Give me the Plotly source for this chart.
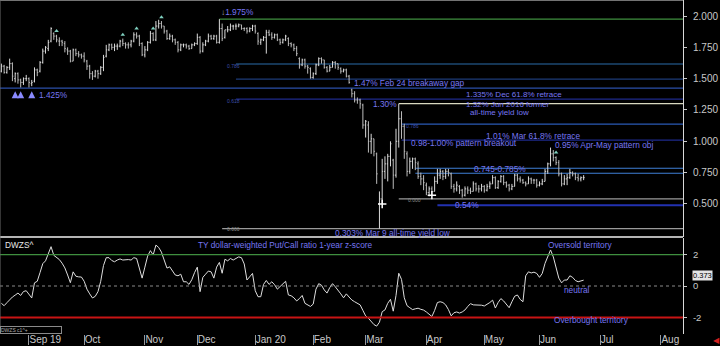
import numpy as np
import pandas as pd
import plotly.graph_objects as go

# ---------------- data ----------------
HOLIDAYS = ["2019-09-02", "2019-10-14", "2019-11-11", "2019-11-28", "2019-12-25",
            "2020-01-01", "2020-01-20", "2020-02-17", "2020-04-10", "2020-05-25", "2020-07-03"]
MONTH_LABELS = ["Sep 19", "Oct", "Nov", "Dec", "Jan 20", "Feb", "Mar", "Apr", "May", "Jun", "Jul", "Aug"]

OPEN = [1.56,1.60,1.55,1.59,1.62,1.50,1.54,1.49,1.47,1.50,
        1.50,1.46,1.48,1.57,1.56,1.63,1.72,1.74,1.80,1.86,
        1.84,1.80,1.80,1.78,1.73,1.72,1.64,1.73,1.70,1.69,
        1.68,1.64,1.60,1.54,1.52,1.56,1.54,1.59,1.68,1.73,
        1.77,1.75,1.76,1.76,1.80,1.78,1.77,1.77,1.80,1.85,
        1.84,1.78,1.69,1.73,1.79,1.86,1.81,1.92,1.94,1.92,
        1.88,1.82,1.84,1.81,1.79,1.73,1.77,1.77,1.76,1.74,
        1.77,1.78,1.83,1.72,1.77,1.80,1.84,1.82,1.84,1.79,
        1.90,1.83,1.89,1.89,1.92,1.92,1.92,1.93,1.90,1.90,
        1.88,1.90,1.92,1.86,1.79,1.81,1.83,1.87,1.85,1.83,
        1.85,1.81,1.79,1.81,1.82,1.78,1.77,1.74,1.66,1.61,
        1.65,1.60,1.58,1.51,1.54,1.61,1.66,1.65,1.59,1.56,
        1.59,1.63,1.62,1.58,1.56,1.57,1.52,1.41,1.38,1.33,
        1.33,1.29,1.13,1.13,1.00,1.02,0.90,0.50,0.54,0.76,
        0.82,0.88,0.85,0.73,1.00,1.18,1.12,0.90,0.76,0.84,
        0.86,0.82,0.72,0.70,0.65,0.59,0.62,0.60,0.68,0.73,
        0.76,0.72,0.76,0.74,0.64,0.62,0.64,0.61,0.57,0.62,
        0.61,0.60,0.66,0.62,0.62,0.64,0.61,0.64,0.66,0.71,
        0.63,0.68,0.72,0.67,0.65,0.62,0.64,0.73,0.70,0.69,
        0.67,0.66,0.70,0.69,0.69,0.65,0.66,0.68,0.76,0.82,
        0.90,0.87,0.83,0.74,0.66,0.70,0.71,0.75,0.74,0.71,
        0.70,0.71]
HIGH = [1.62,1.61,1.60,1.66,1.63,1.55,1.55,1.50,1.51,1.53,
        1.51,1.49,1.59,1.58,1.64,1.74,1.76,1.81,1.91,1.87,
        1.85,1.83,1.81,1.80,1.75,1.73,1.74,1.74,1.72,1.70,
        1.71,1.65,1.61,1.56,1.57,1.57,1.60,1.69,1.77,1.78,
        1.78,1.78,1.78,1.81,1.82,1.79,1.79,1.81,1.87,1.87,
        1.85,1.79,1.76,1.80,1.88,1.87,1.96,1.97,1.96,1.92,
        1.89,1.86,1.85,1.82,1.80,1.78,1.78,1.78,1.77,1.78,
        1.79,1.86,1.84,1.79,1.81,1.86,1.85,1.85,1.85,1.975,
        1.94,1.89,1.92,1.94,1.93,1.94,1.94,1.93,1.91,1.91,
        1.91,1.93,1.93,1.87,1.82,1.84,1.89,1.89,1.87,1.86,
        1.86,1.82,1.82,1.85,1.83,1.79,1.78,1.76,1.67,1.66,
        1.66,1.61,1.59,1.55,1.62,1.67,1.67,1.65,1.60,1.61,
        1.64,1.64,1.62,1.59,1.58,1.58,1.53,1.42,1.40,1.35,
        1.34,1.30,1.17,1.16,1.06,1.02,0.91,0.60,0.86,0.88,
        0.90,1.00,0.86,1.10,1.30,1.24,1.14,0.92,0.87,0.87,
        0.87,0.84,0.75,0.73,0.67,0.64,0.64,0.72,0.78,0.78,
        0.77,0.78,0.78,0.75,0.66,0.68,0.65,0.62,0.64,0.64,
        0.63,0.68,0.67,0.65,0.66,0.65,0.66,0.68,0.73,0.72,
        0.69,0.73,0.73,0.68,0.66,0.66,0.74,0.74,0.72,0.70,
        0.68,0.72,0.71,0.70,0.70,0.68,0.70,0.78,0.83,0.95,
        0.93,0.88,0.85,0.75,0.73,0.74,0.78,0.76,0.75,0.74,
        0.72,0.73]
LOW = [1.55,1.54,1.54,1.57,1.48,1.47,1.46,1.43,1.45,1.48,
       1.43,1.44,1.47,1.52,1.55,1.62,1.70,1.72,1.79,1.81,
       1.79,1.76,1.76,1.71,1.69,1.63,1.64,1.68,1.67,1.66,
       1.63,1.57,1.50,1.49,1.51,1.50,1.53,1.56,1.67,1.72,
       1.73,1.72,1.73,1.75,1.76,1.74,1.74,1.75,1.79,1.82,
       1.76,1.68,1.67,1.72,1.78,1.80,1.80,1.90,1.90,1.86,
       1.81,1.81,1.79,1.77,1.71,1.72,1.75,1.74,1.73,1.74,
       1.76,1.77,1.70,1.71,1.76,1.79,1.81,1.81,1.78,1.78,
       1.80,1.82,1.87,1.88,1.89,1.89,1.91,1.89,1.88,1.86,
       1.87,1.88,1.86,1.77,1.77,1.80,1.70,1.84,1.81,1.82,
       1.80,1.77,1.78,1.80,1.76,1.75,1.72,1.68,1.58,1.60,
       1.58,1.54,1.50,1.50,1.53,1.60,1.62,1.58,1.55,1.56,
       1.59,1.58,1.57,1.54,1.55,1.51,1.46,1.35,1.31,1.30,
       1.26,1.10,1.03,0.91,0.90,0.88,0.66,0.303,0.50,0.70,
       0.68,0.80,0.62,0.71,0.95,1.02,0.86,0.72,0.74,0.78,
       0.77,0.70,0.65,0.61,0.57,0.56,0.57,0.60,0.66,0.70,
       0.69,0.70,0.72,0.62,0.59,0.60,0.58,0.55,0.56,0.58,
       0.58,0.60,0.60,0.59,0.60,0.59,0.60,0.62,0.66,0.62,
       0.62,0.67,0.65,0.63,0.60,0.61,0.64,0.68,0.67,0.66,
       0.64,0.66,0.66,0.66,0.63,0.64,0.65,0.68,0.74,0.80,
       0.84,0.81,0.72,0.64,0.65,0.65,0.70,0.72,0.69,0.68,
       0.68,0.69]
CLOSE = [1.60,1.55,1.59,1.62,1.52,1.54,1.49,1.47,1.50,1.50,
         1.47,1.47,1.57,1.55,1.63,1.72,1.75,1.79,1.90,1.84,
         1.81,1.80,1.79,1.74,1.72,1.64,1.73,1.70,1.69,1.68,
         1.65,1.60,1.54,1.52,1.56,1.54,1.59,1.67,1.73,1.77,
         1.75,1.76,1.76,1.80,1.78,1.77,1.77,1.80,1.85,1.84,
         1.78,1.69,1.73,1.79,1.86,1.81,1.92,1.94,1.92,1.88,
         1.82,1.84,1.81,1.79,1.73,1.77,1.77,1.76,1.74,1.77,
         1.78,1.83,1.72,1.77,1.80,1.84,1.82,1.84,1.79,1.90,
         1.82,1.89,1.89,1.92,1.92,1.92,1.93,1.90,1.90,1.88,
         1.90,1.92,1.88,1.80,1.81,1.83,1.87,1.85,1.83,1.85,
         1.81,1.79,1.81,1.84,1.78,1.77,1.74,1.70,1.61,1.65,
         1.60,1.59,1.51,1.54,1.61,1.66,1.65,1.59,1.56,1.59,
         1.63,1.62,1.59,1.56,1.57,1.52,1.47,1.38,1.33,1.33,
         1.30,1.13,1.16,1.00,1.02,0.92,0.74,0.54,0.76,0.82,
         0.88,0.98,0.73,1.00,1.18,1.12,0.92,0.76,0.84,0.86,
         0.83,0.72,0.70,0.67,0.59,0.62,0.60,0.68,0.73,0.76,
         0.72,0.76,0.75,0.64,0.62,0.65,0.61,0.57,0.62,0.61,
         0.60,0.66,0.62,0.62,0.64,0.61,0.64,0.66,0.71,0.63,
         0.68,0.72,0.67,0.65,0.62,0.64,0.73,0.70,0.69,0.67,
         0.66,0.70,0.69,0.69,0.65,0.66,0.68,0.76,0.82,0.90,
         0.87,0.83,0.74,0.66,0.70,0.71,0.75,0.74,0.71,0.70,
         0.71,0.71]
ZSCORE = [-1.10,-1.25,-1.06,-0.85,-0.70,-0.58,-0.45,-0.60,-0.35,-0.30,
          -0.50,-0.76,0.20,0.30,0.85,1.42,1.60,2.00,2.50,1.95,
          1.80,1.68,1.45,1.15,0.70,0.21,0.90,0.62,0.58,0.57,
          0.30,-0.20,-0.50,-0.76,-0.66,-0.36,0.30,1.30,1.80,1.80,
          1.62,1.54,1.65,1.72,1.65,1.68,1.68,1.65,1.80,1.75,
          1.20,0.50,1.20,1.90,2.25,1.97,2.60,2.45,2.15,1.60,
          1.14,1.22,0.95,0.70,0.65,0.75,0.27,0.27,0.10,0.40,
          0.85,1.20,-0.36,0.55,0.75,0.95,0.90,0.50,1.20,1.50,
          0.81,1.70,1.60,1.75,1.65,1.75,1.85,1.80,1.40,0.38,
          0.58,0.80,-0.30,-0.68,-0.68,0.10,0.35,0.10,0.27,0.08,
          -0.20,-0.05,0.15,0.30,-0.57,-0.62,-0.75,-0.95,-0.80,-0.60,
          -1.10,-1.22,-1.30,-1.15,-0.20,0.15,0.05,-0.25,-0.45,-0.10,
          0.15,-0.05,-0.25,-0.50,-0.75,-0.50,-0.70,-0.89,-1.00,-1.10,
          -1.20,-1.55,-1.90,-2.05,-2.25,-2.45,-2.55,-2.30,-1.63,-1.52,
          -1.10,-0.85,-1.60,-0.60,0.81,0.42,-0.75,-1.25,-1.38,-1.50,
          -1.45,-1.41,-1.48,-1.53,-1.65,-1.80,-1.94,-1.55,-1.05,-1.00,
          -1.05,-1.20,-1.50,-1.90,-1.70,-1.65,-1.72,-1.65,-1.52,-1.30,
          -1.12,-1.20,-1.20,-1.18,-1.22,-1.27,-1.18,-1.05,-0.90,-1.40,
          -1.05,-0.80,-0.95,-1.15,-1.38,-1.00,-0.65,-0.57,-0.85,-1.00,
          0.65,0.90,0.83,0.88,0.80,0.55,0.80,1.44,1.90,2.29,
          1.85,1.20,0.50,0.20,0.38,0.38,0.65,0.55,0.35,0.27,
          0.33,0.373]

PRICE_TICKS = [0.5, 0.75, 1.0, 1.25, 1.5, 1.75, 2.0]
Z_TICKS = [-2, 0, 2]
Z_TICK_TEXT = ["-2", "0", "2"]
Z_LAST_LABEL = "0.373"

UP_SIGNAL_IDX = [5, 7, 11]
UP_SIGNAL_LEVEL = 1.40
TOP_MARK_IDX = [20, 44, 49, 55, 58, 201]
CROSS_IDX = [138, 156]

# ---------------- styling ----------------
BG = "#000000"
FONT = "Liberation Sans, Arial, sans-serif"
TXT_BLUE = "#7676f2"
AX_GREY = "#c8c8c8"
LBL = 8.3

days = pd.bdate_range("2019-08-19", "2020-08-31", freq="C", holidays=HOLIDAYS)
per = days.to_period("M")
month_starts = [i for i in range(1, len(days)) if per[i] != per[i - 1]]
n = len(CLOSE)
xi = list(range(n))
X0, X1 = -0.5, 247.0

fig = go.Figure()
fig.add_trace(go.Ohlc(
    x=xi, open=OPEN, high=HIGH, low=LOW, close=CLOSE, xaxis="x", yaxis="y",
    increasing=dict(line=dict(color="#dadada", width=1)),
    decreasing=dict(line=dict(color="#bcbcbc", width=1)),
    tickwidth=0.35, hoverinfo="skip"))
fig.add_trace(go.Scatter(x=xi, y=ZSCORE, mode="lines", xaxis="x", yaxis="y2",
                         line=dict(color="#dedede", width=1), hoverinfo="skip"))
fig.add_trace(go.Scatter(x=UP_SIGNAL_IDX, y=[UP_SIGNAL_LEVEL] * len(UP_SIGNAL_IDX), mode="markers",
                         xaxis="x", yaxis="y",
                         marker=dict(symbol="arrow-up", size=7, color="#8a8aff")))
fig.add_trace(go.Scatter(x=TOP_MARK_IDX, y=[HIGH[i] + 0.03 for i in TOP_MARK_IDX], mode="markers",
                         xaxis="x", yaxis="y",
                         marker=dict(symbol="triangle-up", size=4, color="#7fd0bf")))
fig.add_trace(go.Scatter(x=CROSS_IDX, y=[LOW[i] for i in CROSS_IDX], mode="markers",
                         xaxis="x", yaxis="y",
                         marker=dict(symbol="cross-thin", size=6, line=dict(color="#ffffff", width=1.5))))

shapes = []

def hline(y, x0, color, width=1, dash="solid", yref="y"):
    shapes.append(dict(type="line", xref="x", yref=yref, x0=x0, x1=X1, y0=y, y1=y,
                       line=dict(color=color, width=width, dash=dash), layer="below"))

# price panel levels
hline(1.975, 79, "#3f8f3f", 1.3)
hline(1.617, 85, "#1d4872", 1.3)
hline(1.497, 85, "#1c3b78", 1.3)
hline(1.425, X0, "#2b4fa8", 1.3)
hline(1.336, 85, "#1e2a8c", 1.3)
hline(1.30, 144, "#d8d8c0", 1.3)
hline(1.137, 145, "#2a5ab6", 1.3)
hline(1.01, 145, "#1e2a8c", 1.3)
hline(0.785, 150, "#3f7fd6", 1.2)
hline(0.745, 150, "#3f7fd6", 1.2)
hline(0.54, 144, "#9a9a9a", 1.3)
hline(0.49, 158, "#2231b0", 2)
hline(0.303, 80, "#9a9a9a", 1.3)
# z-score panel levels
shapes.append(dict(type="line", xref="x", yref="y2", x0=X0, x1=X1, y0=2, y1=2,
                   line=dict(color="#3f8f3f", width=1.3)))
shapes.append(dict(type="line", xref="x", yref="y2", x0=X0, x1=X1, y0=-2, y1=-2,
                   line=dict(color="#c81414", width=2)))
shapes.append(dict(type="line", xref="x", yref="y2", x0=X0, x1=X1, y0=0, y1=0,
                   line=dict(color="#8a8a8a", width=1, dash="dot")))
# borders / separator
shapes.append(dict(type="line", xref="paper", yref="y domain", x0=0, x1=1, y0=0, y1=0,
                   line=dict(color="#f0f0f0", width=1.5)))
shapes.append(dict(type="line", xref="paper", yref="paper", x0=0, x1=1, y0=1, y1=1,
                   line=dict(color="#9a9a9a", width=1.5)))
shapes.append(dict(type="line", xref="paper", yref="paper", x0=0, x1=0, y0=0, y1=1,
                   line=dict(color="#6a6a6a", width=1)))

ann = []

def label(text, x, y, xanchor="left", yanchor="middle", color=TXT_BLUE, size=LBL, yref="y", **kw):
    ann.append(dict(text=text, x=x, y=y, xref="x", yref=yref, xanchor=xanchor, yanchor=yanchor,
                    showarrow=False, font=dict(color=color, size=size, family=FONT), **kw))

label('<span style="color:#a0a0a0">↓</span>1.975%', 79, 1.975, yanchor="bottom")
label("1.425%", 13, 1.425, yanchor="top")
label("1.47% Feb 24 breakaway gap", 127, 1.462)
label("1.335% Dec 61.8% retrace", 167.6, 1.362, size=8, yshift=1)
label("1.32% Jun 2016 former", 167.6, 1.298, size=8, yshift=-1)
label("all-time yield low", 169, 1.226, size=8)
label("1.30%", 144, 1.30, xanchor="right")
label("1.01% Mar 61.8% retrace", 174.9, 1.042)
label("0.98-1.00% pattern breakout", 147.7, 0.986)
label("0.95% Apr-May pattern obj", 199.9, 0.97)
label("0.745-0.785%", 170.5, 0.775)
label("0.54%", 163.6, 0.49)
label("0.303% Mar 9 all-time yield low", 120.1, 0.268)
# small fib ratio tags
label("0.786", 81, 1.60, color="#3d4fa8", size=5)
label("0.618", 81, 1.325, color="#3d4fa8", size=5)
label("0.000", 81, 0.298, color="#8a8a8a", size=5)
label("0.786", 146, 1.125, color="#3d4fa8", size=5)
label("0.000", 146.5, 0.532, color="#8a8a8a", size=5)
# z panel
label("Oversold territory", 197.3, 2.6, yref="y2")
label("neutral", 203.1, -0.25, yref="y2")
label("Overbought territory", 199.5, -2.15, yref="y2")
ann.append(dict(text="DWZS^", x=0.004, y=1, xref="paper", yref="y2 domain", xanchor="left",
                yanchor="top", showarrow=False, font=dict(color="#e8e8e8", size=LBL, family=FONT)))
ann.append(dict(text="TY dollar-weighted Put/Call ratio 1-year z-score", x=285.5 / 683, y=1,
                xref="paper", yref="y2 domain", xanchor="center", yanchor="top", showarrow=False,
                font=dict(color=TXT_BLUE, size=LBL, family=FONT)))
ann.append(dict(text="DWZS c1^+", x=0, y=0, xref="paper", yref="y2 domain", xanchor="left",
                yanchor="bottom", showarrow=False, width=60, align="left",
                bordercolor="#8a8a8a", borderwidth=1, borderpad=0,
                font=dict(color="#b0b0b0", size=5, family=FONT)))
ann.append(dict(text=Z_LAST_LABEL, x=1, xshift=9, y=ZSCORE[-1], yshift=5, xref="paper", yref="y2",
                xanchor="left", yanchor="middle", showarrow=False, bgcolor="#e4e4e4",
                borderpad=0, font=dict(color="#000000", size=7.5, family=FONT)))
ann.append(dict(text="◀", x=1, xshift=28, y=0, yshift=-6, xref="paper", yref="paper",
                xanchor="left", yanchor="middle", showarrow=False,
                font=dict(color="#d02020", size=8, family="DejaVu Sans")))

axis_font = dict(color=AX_GREY, size=10, family=FONT)
fig.update_layout(
    width=720, height=346, margin=dict(l=0, r=37, t=0, b=12),
    paper_bgcolor=BG, plot_bgcolor=BG, showlegend=False,
    shapes=shapes, annotations=ann,
    xaxis=dict(range=[X0, X1], anchor="y2", tickmode="array", tickvals=month_starts,
               ticktext=MONTH_LABELS, ticks="outside", ticklen=10, tickcolor="#9a9a9a",
               ticklabelposition="outside right", ticklabelstandoff=-4,
               showgrid=False, zeroline=False, showline=False, tickfont=axis_font,
               rangeslider=dict(visible=False)),
    yaxis=dict(domain=[0.2904, 1], range=[0.236, 2.128], side="right", anchor="x",
               tickvals=PRICE_TICKS, tickformat=".3f", ticks="outside", ticklen=3,
               tickcolor=AX_GREY, showgrid=False, zeroline=False, showline=True,
               linecolor="#d8d8d8", linewidth=1, tickfont=axis_font, ticklabelstandoff=4),
    yaxis2=dict(domain=[0, 0.2874], range=[-3.05, 3.05], side="right", anchor="x",
                tickvals=Z_TICKS, ticktext=Z_TICK_TEXT, ticks="outside", ticklen=3,
                tickcolor=AX_GREY, showgrid=False, zeroline=False, showline=True,
                linecolor="#d8d8d8", linewidth=1,
                tickfont=dict(color=AX_GREY, size=9.5, family=FONT), ticklabelstandoff=4),
)

fig.write_html("out.html")
